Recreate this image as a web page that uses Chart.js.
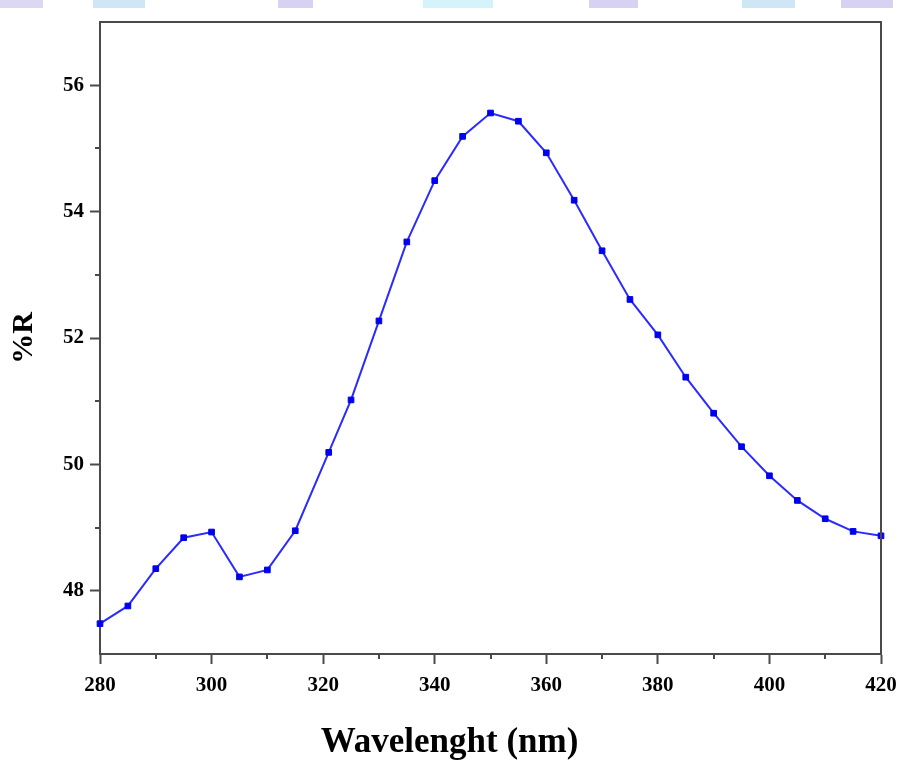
<!DOCTYPE html>
<html>
<head>
<meta charset="utf-8">
<script src="https://cdn.jsdelivr.net/npm/chart.js@4/dist/chart.umd.min.js"></script>
<style>
  html, body { margin: 0; padding: 0; background: #fff; }
  #wrap { position: relative; width: 899px; height: 760px; }
  /* faded banner strip along the top edge */
  #strip {
    position: absolute; left: 0; top: 0; width: 899px; height: 8px;
    background: linear-gradient(to right,
      #dcd8f4 0 43px, #fff 43px 93px, #cfe6f6 93px 145px, #fff 145px 278px,
      #d8d2f2 278px 313px, #fff 313px 423px, #d4f3fb 423px 493px, #fff 493px 589px,
      #d8d2f2 589px 638px, #fff 638px 742px, #cfe6f6 742px 795px, #fff 795px 841px,
      #d8d2f2 841px 893px, #fff 893px);
  }
  canvas { position: absolute; left: 0; top: 0; }
</style>
</head>
<body>
<div id="wrap">
  <canvas id="chart" width="899" height="760"></canvas>
  <div id="strip"></div>
</div>
<script>
// reflectance spectrum
const wavelength = [280, 285, 290, 295, 300, 305, 310, 315, 321, 325, 330, 335, 340, 345, 350,
  355, 360, 365, 370, 375, 380, 385, 390, 395, 400, 405, 410, 415, 420];
const reflectance = [47.48, 47.76, 48.35, 48.84, 48.93, 48.22, 48.33, 48.95, 50.19, 51.02, 52.27,
  53.52, 54.49, 55.19, 55.56, 55.43, 54.93, 54.18, 53.38, 52.61, 52.05, 51.38, 50.81, 50.28,
  49.82, 49.43, 49.14, 48.94, 48.87];

const xTicks = [280, 300, 320, 340, 360, 380, 400, 420];
const xMinor = [290, 310, 330, 350, 370, 390, 410];
const yTicks = [48, 50, 52, 54, 56];
const yMinor = [49, 51, 53, 55];

const axisColor = '#4a4a4a';
const serif = "'Liberation Serif', 'DejaVu Serif', serif";

// frame on top/right plus the short minor ticks outside the plot
const framePlugin = {
  id: 'frame',
  afterDraw(chart) {
    const { ctx, chartArea: a, scales } = chart;
    ctx.save();
    ctx.strokeStyle = axisColor;
    ctx.lineWidth = 2;
    ctx.beginPath();
    ctx.moveTo(a.left, a.top);
    ctx.lineTo(a.right, a.top);
    ctx.lineTo(a.right, a.bottom);
    xMinor.forEach(v => {
      const px = Math.round(scales.x.getPixelForValue(v));
      ctx.moveTo(px, a.bottom);
      ctx.lineTo(px, a.bottom + 5);
    });
    yMinor.forEach(v => {
      const py = Math.round(scales.y.getPixelForValue(v));
      ctx.moveTo(a.left, py);
      ctx.lineTo(a.left - 5, py);
    });
    ctx.stroke();
    ctx.restore();
  }
};

new Chart(document.getElementById('chart'), {
  type: 'line',
  data: {
    datasets: [{
      data: wavelength.map((w, i) => ({ x: w, y: reflectance[i] })),
      borderColor: '#2b2bff',
      borderWidth: 2,
      pointStyle: 'rect',
      pointRadius: 4,
      pointBorderWidth: 1,
      pointBackgroundColor: '#0000f0',
      pointBorderColor: '#0000f0',
      tension: 0,
      clip: false
    }]
  },
  options: {
    responsive: false,
    animation: false,
    layout: { padding: { top: 22, right: 0, left: 0, bottom: 0 } },
    plugins: {
      legend: { display: false },
      tooltip: { enabled: false },
      title: {
        display: true,
        position: 'bottom',
        text: 'Wavelenght (nm)',
        color: '#000',
        font: { family: serif, size: 35, weight: 'bold', lineHeight: 1 },
        padding: { top: 0, bottom: 0 }
      }
    },
    scales: {
      x: {
        type: 'linear',
        min: 280,
        max: 420,
        afterBuildTicks: s => { s.ticks = xTicks.map(v => ({ value: v })); },
        afterFit: s => { s.height = 71; s.paddingLeft = 0; s.paddingRight = 18; },
        grid: { drawOnChartArea: false, tickLength: 10, tickWidth: 2, tickColor: axisColor },
        border: { color: axisColor, width: 2 },
        ticks: { color: '#000', padding: 9, maxRotation: 0, font: { family: serif, size: 21, weight: 'bold' } }
      },
      y: {
        min: 47,
        max: 57,
        afterBuildTicks: s => { s.ticks = yTicks.map(v => ({ value: v })); },
        afterFit: s => { s.width = 100; },
        grid: { drawOnChartArea: false, tickLength: 10, tickWidth: 2, tickColor: axisColor },
        border: { color: axisColor, width: 2 },
        ticks: { color: '#000', padding: 6, font: { family: serif, size: 21, weight: 'bold' } },
        title: {
          display: true,
          text: '%R',
          color: '#000',
          font: { family: serif, size: 30, weight: 'bold', lineHeight: 1.2 },
          padding: { top: 6, bottom: 0 }
        }
      }
    }
  },
  plugins: [framePlugin]
});
</script>
</body>
</html>
